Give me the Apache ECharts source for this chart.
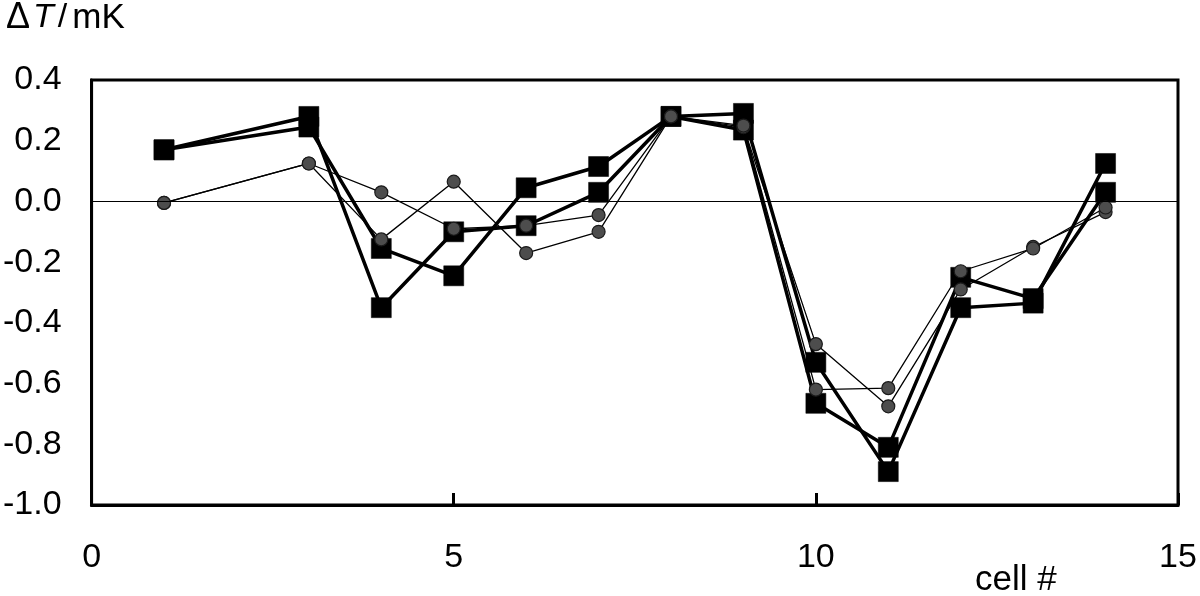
<!DOCTYPE html>
<html><head><meta charset="utf-8">
<script src="https://cdn.jsdelivr.net/npm/echarts@6/dist/echarts.min.js"></script>
<style>html,body{margin:0;padding:0;background:#fff}#c{width:1200px;height:596px}</style>
</head><body><div id="c"></div>
<script>
// cell numbers (cell 2 has no data)
const cells = [1, 3, 4, 5, 6, 7, 8, 9, 10, 11, 12, 13, 14];
// filled-square series (thick lines)
const squaresA = [0.17, 0.28, -0.35, -0.10, -0.08, 0.03, 0.28, 0.29, -0.53, -0.89, -0.35, -0.335, 0.125];
const squaresB = [0.17, 0.245, -0.155, -0.245, 0.045, 0.115, 0.28, 0.235, -0.665, -0.81, -0.25, -0.32, 0.03];
// grey-circle series (thin lines)
const circlesA = [-0.005, 0.125, -0.125, 0.065, -0.17, -0.10, 0.28, 0.245, -0.47, -0.675, -0.29, -0.15, -0.035];
const circlesB = [-0.005, 0.125, 0.03, -0.09, -0.08, -0.045, 0.28, 0.25, -0.62, -0.615, -0.23, -0.155, -0.02];
// axis ranges / ticks
const xMin = 0, xMax = 15, xStep = 5;
const yMin = -1.0, yMax = 0.4, yStep = 0.2;
const yTitle = 'ΔT/mK';
const xTitle = 'cell #';

const FONT = '"Liberation Sans", Arial, sans-serif';
const pairs = vals => cells.map((c, i) => [c, vals[i]]);

const squareSeries = (name, vals, extra) => Object.assign({
  name, type: 'line', data: pairs(vals),
  symbol: 'rect', symbolSize: 20,
  lineStyle: { color: '#000', width: 3.5 },
  itemStyle: { color: '#000', borderColor: '#000', borderWidth: 0.5 },
  z: 3
}, extra || {});
const circleSeries = (name, vals) => ({
  name, type: 'line', data: pairs(vals),
  symbol: 'circle', symbolSize: 13,
  lineStyle: { color: '#000', width: 1.3 },
  itemStyle: { color: '#4d4d4d', borderColor: '#1a1a1a', borderWidth: 1.2 },
  z: 4
});

const chart = echarts.init(document.getElementById('c'), null, { renderer: 'canvas' });
chart.setOption({
  animation: false,
  backgroundColor: '#fff',
  grid: { left: 91, right: 22, top: 80, bottom: 91, show: true, borderColor: '#000', borderWidth: 3 },
  xAxis: {
    type: 'value', min: xMin, max: xMax, interval: xStep,
    axisLine: { show: true, onZero: false, lineStyle: { color: '#000', width: 3 } },
    axisTick: { show: true, inside: true, length: 12, lineStyle: { color: '#000', width: 3 } },
    axisLabel: { color: '#000', fontSize: 34, fontFamily: FONT, margin: 36 },
    splitLine: { show: false }
  },
  yAxis: {
    type: 'value', min: yMin, max: yMax, interval: yStep,
    axisLine: { show: true, onZero: false, lineStyle: { color: '#000', width: 3 } },
    axisTick: { show: false },
    axisLabel: {
      color: '#000', fontSize: 34, fontFamily: FONT, margin: 30,
      formatter: v => (Math.abs(v) < 1e-9 ? 0 : v).toFixed(1)
    },
    splitLine: { show: false }
  },
  graphic: [
    {
      type: 'text', left: 6, top: 0,
      style: {
        text: '{d|' + yTitle.charAt(0) + '}{t|' + yTitle.charAt(1) + '}{s|/}{m|' + yTitle.slice(3) + '}',
        rich: {
          d: { fontSize: 36, fontFamily: FONT, fill: '#000', padding: [0, 3, 0, 0] },
          t: { fontSize: 34, fontFamily: FONT, fontStyle: 'italic', fill: '#000' },
          s: { fontSize: 34, fontFamily: FONT, fill: '#000', padding: [0, 5, 0, 4] },
          m: { fontSize: 35, fontFamily: FONT, fill: '#000' }
        }
      }
    },
    {
      type: 'text', left: 975, top: 563,
      style: { text: xTitle, fontSize: 35, fontFamily: FONT, fill: '#000' }
    }
  ],
  series: [
    squareSeries('sqA', squaresA, {
      markLine: {
        silent: true, symbol: ['none', 'none'], label: { show: false },
        lineStyle: { color: '#000', width: 1.2, type: 'solid' },
        data: [{ yAxis: 0 }]
      }
    }),
    squareSeries('sqB', squaresB),
    circleSeries('ciA', circlesA),
    circleSeries('ciB', circlesB)
  ]
});
</script>
</body></html>
